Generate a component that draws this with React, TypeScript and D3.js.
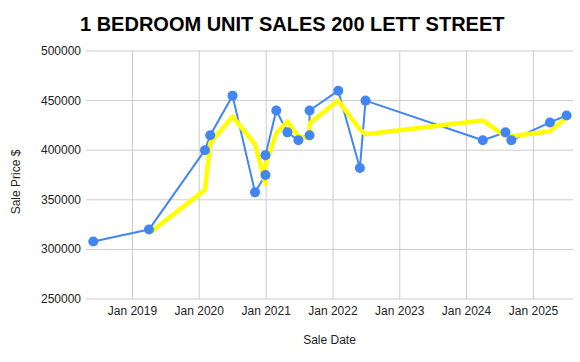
import React from "react";
import * as d3 from "d3";

const saleDates: string[] = [
  "2018-06-01", "2019-04-01", "2020-02-01", "2020-03-01", "2020-07-01",
  "2020-11-01", "2020-12-28", "2020-12-28", "2021-02-25", "2021-04-27",
  "2021-06-26", "2021-08-26", "2021-08-26", "2022-01-30", "2022-05-28",
  "2022-06-28", "2024-03-30", "2024-08-01", "2024-09-02", "2025-04-01",
  "2025-07-01",
];
const salePrices: number[] = [
  308000, 320000, 400000, 415000, 455000,
  357500, 375000, 395000, 440000, 418000,
  410000, 415000, 440000, 460000, 382000,
  450000, 410000, 418000, 410000, 428000,
  435000,
];
// trend line (yellow), one value per sale from the 2nd sale on
const trendPrices: number[] = [
  316000, 360000, 407000, 434000,
  406000, 366000, 385000, 417000, 429000,
  414000, 412000, 427000, 450000, 421000,
  416000, 430000, 414000, 414000, 419000,
  433000,
];
const yTicks: number[] = [250000, 300000, 350000, 400000, 450000, 500000];
const xTickYears: number[] = [2019, 2020, 2021, 2022, 2023, 2024, 2025];

const W = 580;
const H = 362;
const left = 86;
const right = 573;
const top = 51;
const bottom = 299;

export default function App() {
  const parse = d3.timeParse("%Y-%m-%d");
  const dates = saleDates.map((s) => parse(s) as Date);
  const x = d3
    .scaleTime()
    .domain([new Date(2018, 3, 22), new Date(2025, 7, 5)])
    .range([left, right]);
  const y = d3.scaleLinear().domain([250000, 500000]).range([bottom, top]);

  const pts = dates.map((d, i) => [x(d), y(salePrices[i])] as [number, number]);
  const trendPts = trendPrices.map(
    (v, i) => [x(dates[i + 1]), y(v)] as [number, number]
  );
  const line = d3.line();
  const xTicks = xTickYears.map((yr) => new Date(yr, 0, 1));
  const fmt = d3.timeFormat("Jan %Y");

  return (
    <svg
      width={W}
      height={H}
      style={{ position: "absolute", left: 0, top: 0, background: "#fff" }}
      fontFamily="Arial, 'Liberation Sans', sans-serif"
    >
      <rect x={0} y={0} width={W} height={H} fill="#fff" />
      <text x={80} y={31} fontSize={20} fontWeight="bold" fill="#000">
        1 BEDROOM UNIT SALES 200 LETT STREET
      </text>
      {yTicks.map((t) => (
        <g key={"y" + t}>
          <line x1={left} x2={right} y1={y(t)} y2={y(t)} stroke="#cccccc" strokeWidth={1} />
          <text x={81} y={y(t) + 4} fontSize={12} textAnchor="end" fill="#222">
            {t}
          </text>
        </g>
      ))}
      {xTicks.map((t) => (
        <g key={"x" + t.getFullYear()}>
          <line x1={x(t)} x2={x(t)} y1={top} y2={bottom} stroke="#cccccc" strokeWidth={1} />
          <text x={x(t)} y={315} fontSize={12} textAnchor="middle" fill="#222">
            {fmt(t)}
          </text>
        </g>
      ))}
      <text x={(left + right) / 2} y={344} fontSize={12} textAnchor="middle" fill="#222">
        Sale Date
      </text>
      <text
        transform={`translate(20,${(top + bottom) / 2 + 7}) rotate(-90)`}
        fontSize={12}
        textAnchor="middle"
        fill="#222"
      >
        Sale Price $
      </text>
      <path d={line(pts) || ""} fill="none" stroke="#4285f4" strokeWidth={2} strokeLinejoin="round" />
      <path
        d={line(trendPts) || ""}
        fill="none"
        stroke="#ffff00"
        strokeWidth={4.5}
        strokeLinejoin="round"
      />
      {pts.map((p, i) => (
        <circle key={"p" + i} cx={p[0]} cy={p[1]} r={5} fill="#4285f4" />
      ))}
    </svg>
  );
}
